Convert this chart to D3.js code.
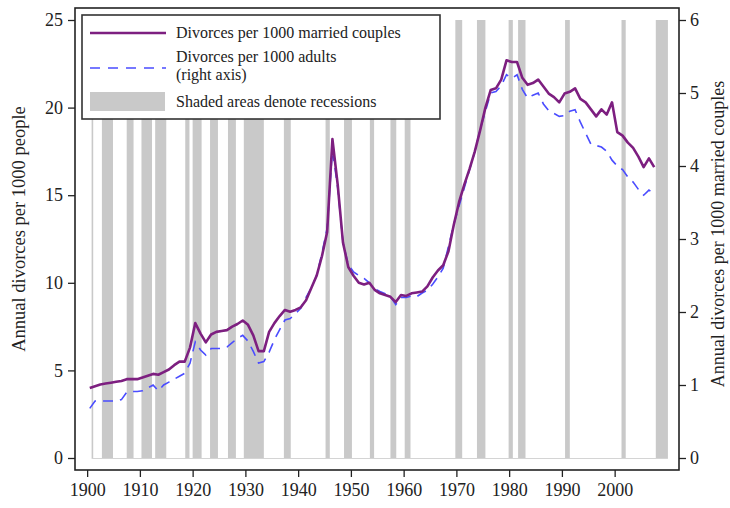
<!DOCTYPE html>
<html>
<head>
<meta charset="utf-8">
<script src="https://cdn.jsdelivr.net/npm/d3@7"></script>
<style>
  body { margin: 0; background: #fff; }
  text { font-family: "Liberation Serif", "Times New Roman", serif; fill: #222; }
</style>
</head>
<body>
<div id="chart"></div>
<script>
// annual values, 1900-2007
const firstYear = 1900;
// divorces per 1000 married couples (left axis)
const perCouples = [
  4.0, 4.1, 4.2, 4.25, 4.3, 4.35, 4.4, 4.5, 4.5, 4.5,
  4.6, 4.7, 4.8, 4.75, 4.9, 5.05, 5.3, 5.5, 5.5, 6.3,
  7.7, 7.1, 6.6, 7.05, 7.2, 7.25, 7.3, 7.5, 7.65, 7.85,
  7.6, 7.0, 6.1, 6.1, 7.2, 7.7, 8.1, 8.45, 8.35, 8.45,
  8.6, 9.0, 9.7, 10.4, 11.5, 12.9, 18.2, 15.6, 12.3, 10.9,
  10.4, 10.0, 9.9, 10.0, 9.6, 9.4, 9.3, 9.2, 8.9, 9.3,
  9.25, 9.4, 9.45, 9.5, 9.8, 10.3, 10.7, 11.0, 11.8, 13.3,
  14.6, 15.6, 16.5, 17.5, 18.7, 20.0, 21.0, 21.1, 21.6, 22.7,
  22.6, 22.6, 21.7, 21.3, 21.4, 21.6, 21.2, 20.8, 20.6, 20.3,
  20.8, 20.9, 21.1, 20.5, 20.3, 19.9, 19.5, 19.9, 19.6, 20.3,
  18.6, 18.4, 18.0, 17.7, 17.2, 16.6, 17.1, 16.6
];
// divorces per 1000 adults (right axis)
const perAdults = [
  0.68, 0.78, 0.78, 0.78, 0.78, 0.78, 0.8, 0.9, 0.91, 0.91,
  0.92, 0.96, 1.0, 0.92, 1.0, 1.04, 1.08, 1.12, 1.16, 1.3,
  1.59, 1.48, 1.41, 1.5, 1.5, 1.5, 1.52, 1.58, 1.64, 1.68,
  1.6, 1.46, 1.3, 1.32, 1.45, 1.62, 1.76, 1.89, 1.91, 1.98,
  2.05, 2.2, 2.33, 2.5, 2.8, 3.15, 4.22, 3.7, 2.95, 2.65,
  2.55, 2.5, 2.46, 2.4, 2.32, 2.28, 2.25, 2.21, 2.1, 2.2,
  2.2, 2.22, 2.21, 2.26, 2.3, 2.38, 2.48, 2.6, 2.9, 3.2,
  3.45, 3.7, 3.95, 4.2, 4.5, 4.75, 5.0, 5.02, 5.1, 5.25,
  5.2, 5.25, 5.05, 4.93, 4.97, 5.0, 4.85, 4.76, 4.72, 4.68,
  4.69, 4.75, 4.77, 4.6, 4.45, 4.3, 4.28, 4.26, 4.2, 4.08,
  4.0, 3.95, 3.85, 3.78, 3.68, 3.6, 3.67, 3.62
];
// recession periods [start, end]
const recessions = [
  [1900.85, 1901.15], [1902.8, 1904.9], [1907.5, 1908.8], [1910.3, 1912.3],
  [1912.9, 1915.0], [1918.6, 1919.4], [1920.0, 1921.7], [1923.3, 1924.8],
  [1926.7, 1928.2], [1929.7, 1933.5], [1937.3, 1938.6], [1945.2, 1946.0],
  [1948.7, 1950.2], [1953.6, 1954.4], [1957.5, 1958.6], [1960.2, 1961.3],
  [1969.8, 1971.1], [1973.9, 1975.5], [1979.9, 1980.7], [1981.7, 1983.1],
  [1990.6, 1991.5], [2001.3, 2002.1], [2007.8, 2010.1]
];
const xTicks = [1900, 1910, 1920, 1930, 1940, 1950, 1960, 1970, 1980, 1990, 2000];
const leftTicks = [0, 5, 10, 15, 20, 25];
const rightTicks = [0, 1, 2, 3, 4, 5, 6];
const legendLabels = [
  ["Divorces per 1000 married couples"],
  ["Divorces per 1000 adults", "(right axis)"],
  ["Shaded areas denote recessions"]
];

const width = 730, height = 508;
const plotLeft = 75, plotRight = 679, plotTop = 8, plotBottom = 470;

const purple = "#7d1f80", blue = "#4a4cff", shade = "#c9c9c9";

const x = d3.scaleLinear().domain([1897.7, 2012.2]).range([plotLeft, plotRight]);
const yL = d3.scaleLinear().domain([0, 25]).range([458, 20]);
const yR = d3.scaleLinear().domain([0, 6]).range([458, 20]);

const svg = d3.select("#chart").append("svg")
  .attr("width", width)
  .attr("height", height);

// recession shading
svg.append("g")
  .selectAll("rect")
  .data(recessions)
  .join("rect")
  .attr("x", d => x(d[0]))
  .attr("width", d => x(d[1]) - x(d[0]))
  .attr("y", yL(25))
  .attr("height", yL(0) - yL(25))
  .attr("fill", shade);

svg.append("line")
  .attr("x1", x(recessions[0][0])).attr("x2", x(recessions[recessions.length - 1][1]))
  .attr("y1", yL(0) + 0.5).attr("y2", yL(0) + 0.5)
  .attr("stroke", "#d4d4d4");

// series
const couples = perCouples.map((v, i) => ({ year: firstYear + i, v }));
const adults = perAdults.map((v, i) => ({ year: firstYear + i, v }));

svg.append("path")
  .datum(adults)
  .attr("fill", "none")
  .attr("stroke", blue)
  .attr("stroke-width", 1.6)
  .attr("stroke-dasharray", "10,7")
  .attr("d", d3.line().x(d => x(d.year + 0.5)).y(d => yR(d.v)));

svg.append("path")
  .datum(couples)
  .attr("fill", "none")
  .attr("stroke", purple)
  .attr("stroke-width", 2.6)
  .attr("stroke-linejoin", "round")
  .attr("d", d3.line().x(d => x(d.year + 0.5)).y(d => yL(d.v)));

// frame
svg.append("rect")
  .attr("x", plotLeft).attr("y", plotTop)
  .attr("width", plotRight - plotLeft).attr("height", plotBottom - plotTop)
  .attr("fill", "none")
  .attr("stroke", "#222")
  .attr("stroke-width", 1.6);

// axes
const axB = svg.append("g")
  .attr("transform", `translate(0,${plotBottom})`)
  .call(d3.axisBottom(x).tickValues(xTicks).tickFormat(d3.format("d")).tickSize(7).tickPadding(6));
const axL = svg.append("g")
  .attr("transform", `translate(${plotLeft},0)`)
  .call(d3.axisLeft(yL).tickValues(leftTicks).tickFormat(d3.format("d")).tickSize(7).tickPadding(5));
const axR = svg.append("g")
  .attr("transform", `translate(${plotRight},0)`)
  .call(d3.axisRight(yR).tickValues(rightTicks).tickFormat(d3.format("d")).tickSize(7).tickPadding(4));

[axB, axL, axR].forEach(g => {
  g.select(".domain").remove();
  g.selectAll(".tick line").attr("stroke", "#222").attr("stroke-width", 1.3);
  g.selectAll(".tick text")
    .attr("fill", "#222")
    .style("font-family", "'Liberation Serif', serif")
    .style("font-size", "18px");
});

// axis titles
svg.append("text")
  .attr("transform", "translate(25,229) rotate(-90)")
  .attr("text-anchor", "middle")
  .style("font-size", "18.5px")
  .text("Annual divorces per 1000 people");

svg.append("text")
  .attr("transform", "translate(724,234) rotate(-90)")
  .attr("text-anchor", "middle")
  .style("font-size", "18px")
  .text("Annual divorces per 1000 married couples");

// legend
const lg = svg.append("g");
lg.append("rect")
  .attr("x", 82).attr("y", 15)
  .attr("width", 358).attr("height", 104)
  .attr("fill", "#fff")
  .attr("stroke", "#333")
  .attr("stroke-width", 1.6);

lg.append("line")
  .attr("x1", 90).attr("x2", 166).attr("y1", 33).attr("y2", 33)
  .attr("stroke", purple).attr("stroke-width", 2.6);
lg.append("line")
  .attr("x1", 90).attr("x2", 166).attr("y1", 68).attr("y2", 68)
  .attr("stroke", blue).attr("stroke-width", 1.6).attr("stroke-dasharray", "10,8");
lg.append("rect")
  .attr("x", 90).attr("y", 92).attr("width", 75).attr("height", 19)
  .attr("fill", shade);

const rowY = [[38], [61.5, 80], [107]];
legendLabels.forEach((lines, i) => {
  lines.forEach((t, j) => {
    lg.append("text")
      .attr("x", 176).attr("y", rowY[i][j])
      .style("font-size", "16px")
      .text(t);
  });
});
</script>
</body>
</html>
